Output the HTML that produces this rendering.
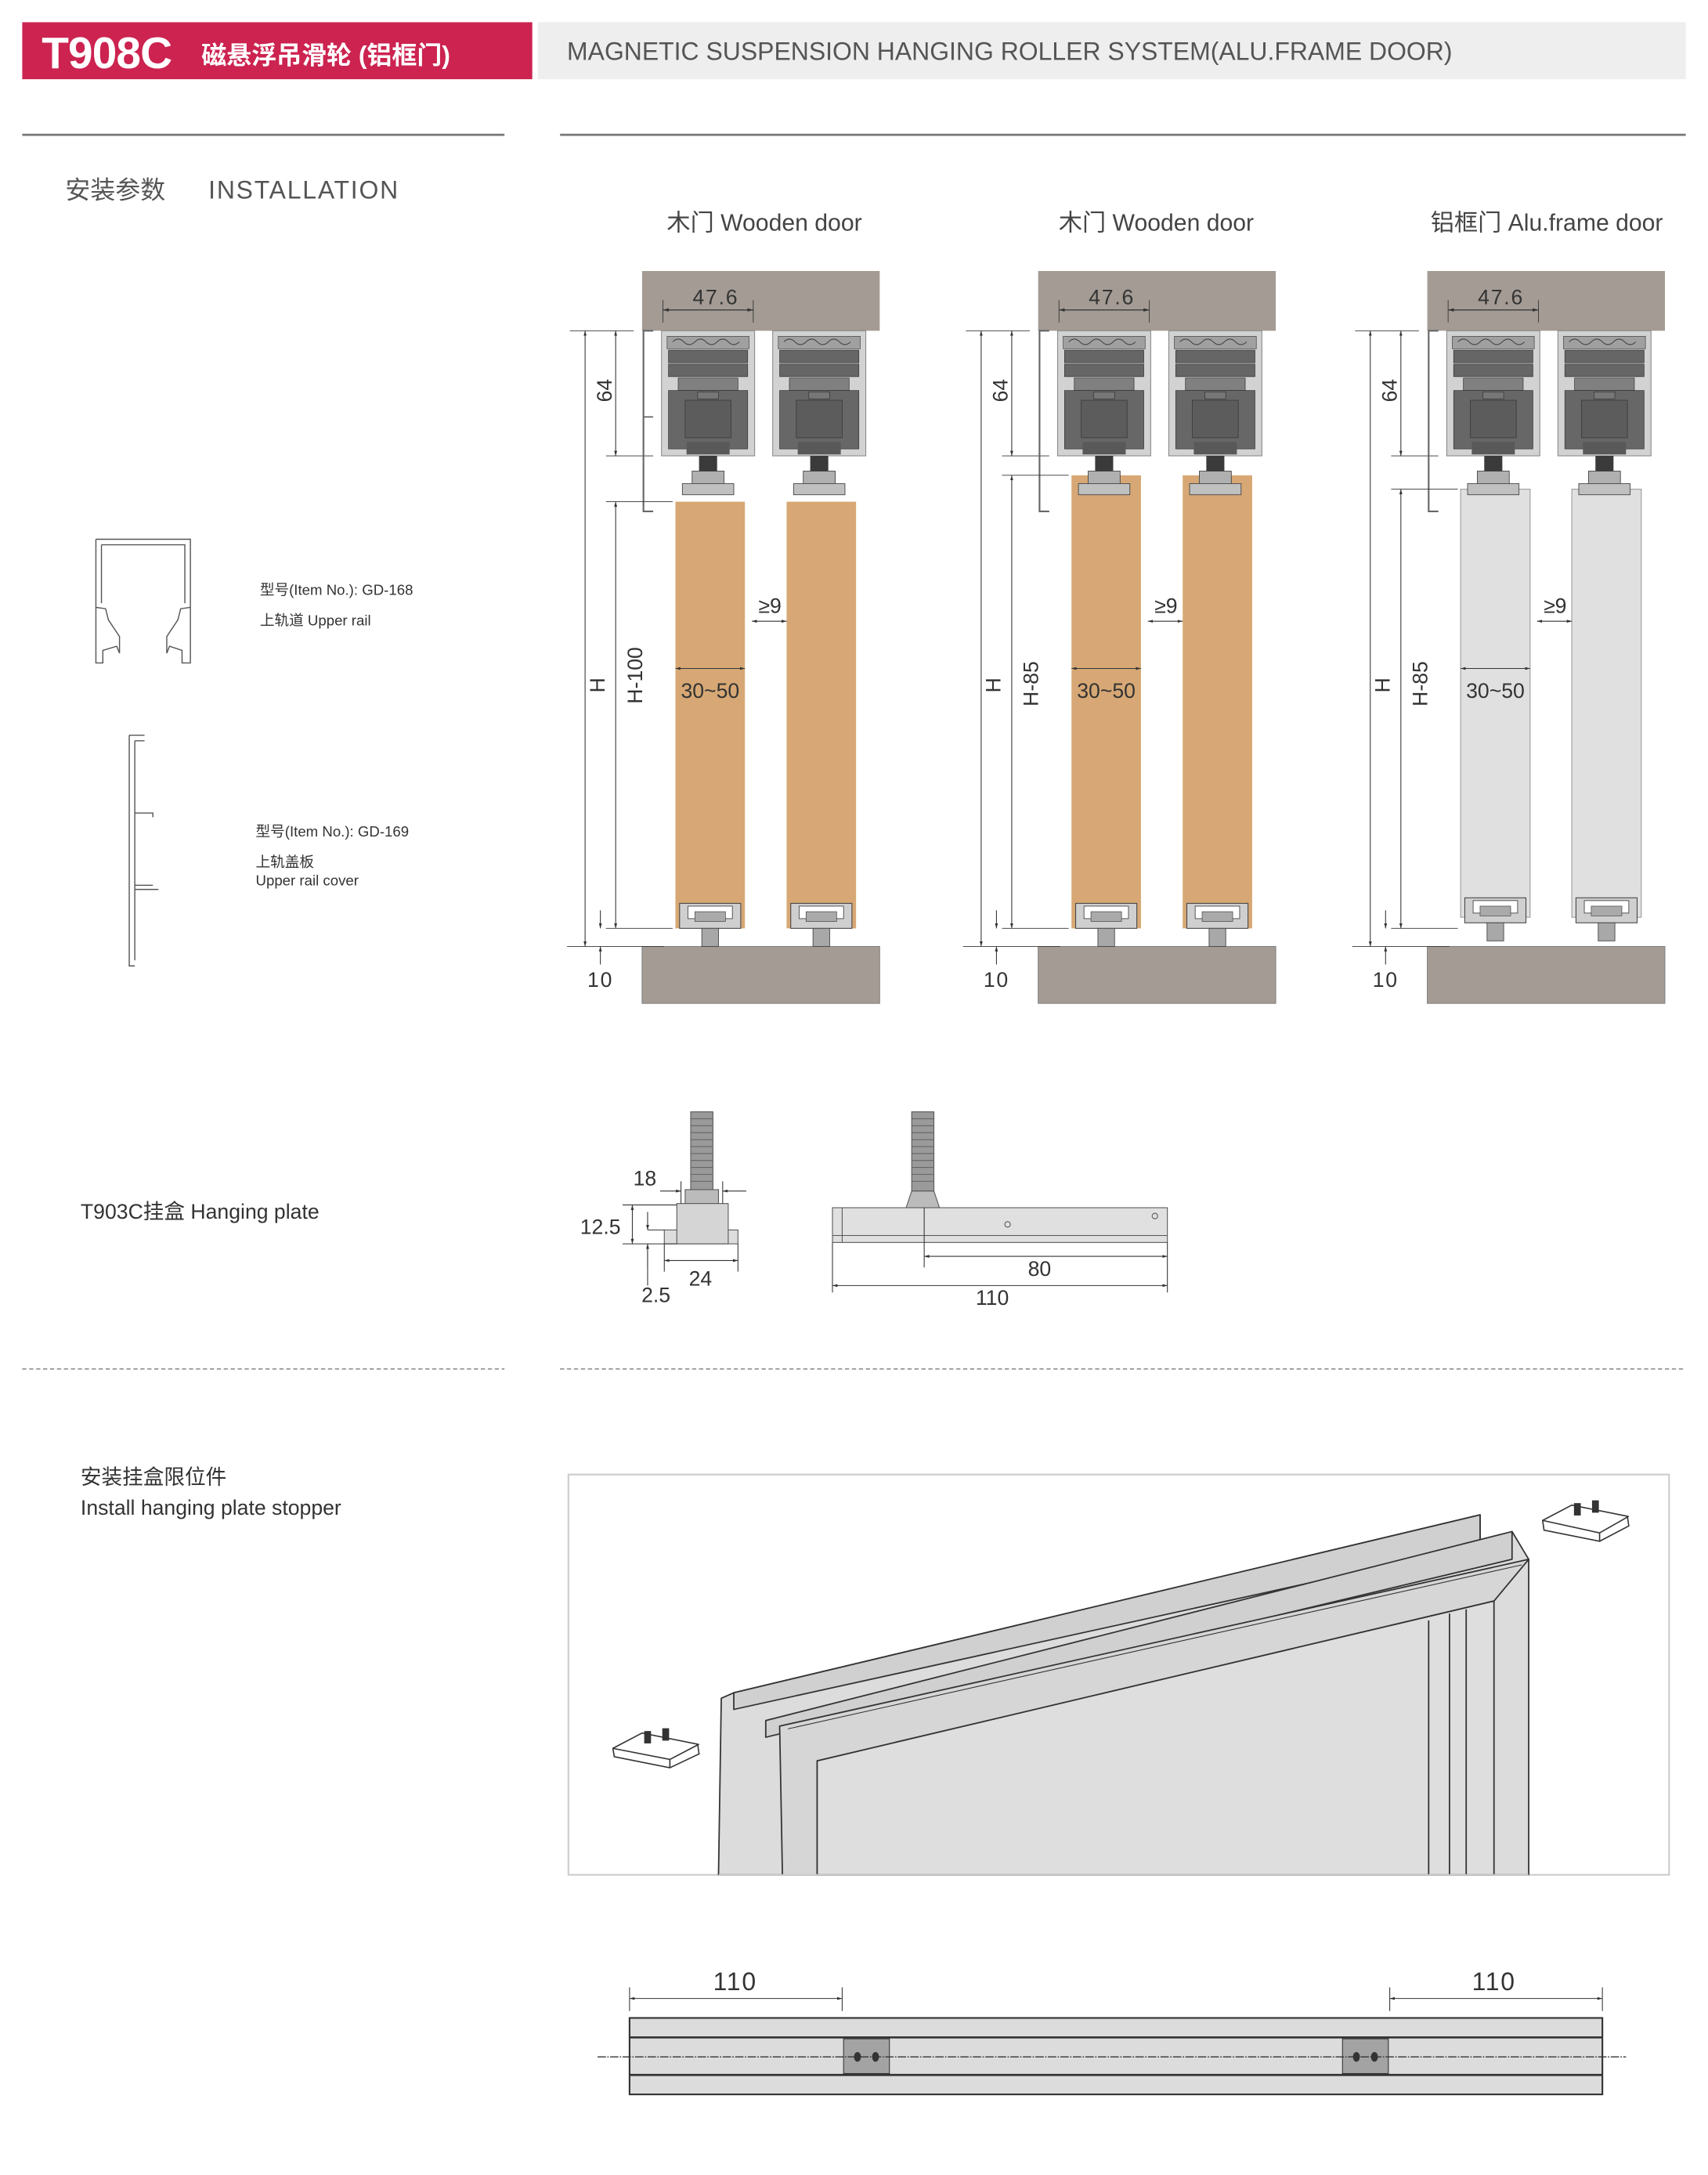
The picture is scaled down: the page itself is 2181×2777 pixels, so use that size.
<!DOCTYPE html>
<html><head><meta charset="utf-8">
<style>
html,body{margin:0;padding:0;background:#fff;}
svg{display:block;}
text{font-family:"Liberation Sans","Noto Sans CJK SC",sans-serif;}
</style></head>
<body>
<svg width="2181" height="2777" viewBox="0 0 1229 1565" preserveAspectRatio="none" xmlns="http://www.w3.org/2000/svg">
<defs>
<marker id="a" viewBox="0 0 10 10" refX="10" refY="5" markerWidth="6" markerHeight="6" orient="auto-start-reverse"><path d="M0,2 L10,5 L0,8 z" fill="#333"/></marker>
<g id="unit">
<rect x="0" y="0" width="67" height="90" fill="#d2d2d2" stroke="#888" stroke-width="0.6"/>
<rect x="4" y="4" width="59" height="9" fill="#a0a0a0" stroke="#444" stroke-width="0.4"/>
<path d="M8,8 q4,-4 8,0 t8,0 t8,0 t8,0 t8,0 t8,0" fill="none" stroke="#444" stroke-width="0.6"/>
<rect x="5" y="14" width="57" height="9" fill="#666" stroke="#333" stroke-width="0.4"/>
<rect x="5" y="24" width="57" height="9" fill="#666" stroke="#333" stroke-width="0.4"/>
<rect x="12" y="34" width="43" height="9" fill="#808080" stroke="#333" stroke-width="0.4"/>
<rect x="5" y="43" width="57" height="42" fill="#676767" stroke="#333" stroke-width="0.4"/>
<rect x="17" y="50" width="33" height="27" fill="#5c5c5c" stroke="#333" stroke-width="0.4"/>
<rect x="26" y="44" width="15" height="5" fill="#777" stroke="#333" stroke-width="0.4"/>
<rect x="18" y="80" width="31" height="9" fill="#595959"/>
<rect x="27" y="90" width="13" height="11" fill="#3a3a3a"/>
<rect x="22" y="101" width="23" height="13" fill="#b0b0b0" stroke="#444" stroke-width="0.5"/>
<rect x="15" y="110" width="37" height="8" fill="#c0c0c0" stroke="#444" stroke-width="0.5"/>
</g>
<g id="guide">
<rect x="3" y="650" width="44" height="18" fill="#cfcfcf" stroke="#444" stroke-width="0.6"/>
<rect x="9" y="652" width="32" height="9" fill="#fff" stroke="#444" stroke-width="0.5"/>
<rect x="14" y="656" width="22" height="7" fill="#aaa" stroke="#444" stroke-width="0.4"/>
<rect x="19" y="668" width="12" height="13" fill="#a8a8a8" stroke="#444" stroke-width="0.5"/>
</g>
<g id="common">
<rect x="462" y="195" width="171" height="43" fill="#a39b94"/>
<line x1="477" y1="223" x2="542" y2="223" stroke="#333" stroke-width="0.7" marker-start="url(#a)" marker-end="url(#a)"/>
<line x1="477" y1="216" x2="477" y2="232" stroke="#333" stroke-width="0.5"/>
<line x1="542" y1="216" x2="542" y2="232" stroke="#333" stroke-width="0.5"/>
<text x="515" y="219" font-size="15" text-anchor="middle" fill="#333" letter-spacing="1">47.6</text>
<use href="#unit" x="476" y="238"/>
<use href="#unit" x="556" y="238"/>
<rect x="462" y="681" width="171" height="41" fill="#a39b94" stroke="#777" stroke-width="0.5"/>
<line x1="410" y1="238" x2="456" y2="238" stroke="#333" stroke-width="0.5"/>
<line x1="408" y1="681" x2="478" y2="681" stroke="#333" stroke-width="0.5"/>
<line x1="421" y1="238" x2="421" y2="681" stroke="#333" stroke-width="0.6" marker-start="url(#a)" marker-end="url(#a)"/>
<line x1="443" y1="238" x2="443" y2="328" stroke="#333" stroke-width="0.6" marker-start="url(#a)" marker-end="url(#a)"/>
<line x1="436" y1="328" x2="470" y2="328" stroke="#333" stroke-width="0.5"/>
<text transform="translate(440,281) rotate(-90)" font-size="15" text-anchor="middle" fill="#333">64</text>
<text transform="translate(435,493) rotate(-90)" font-size="15" text-anchor="middle" fill="#333">H</text>
<line x1="432" y1="655" x2="432" y2="668" stroke="#333" stroke-width="0.6" marker-end="url(#a)"/>
<line x1="432" y1="694" x2="432" y2="681" stroke="#333" stroke-width="0.6" marker-end="url(#a)"/>
<text x="432" y="710" font-size="15" text-anchor="middle" fill="#333" letter-spacing="1">10</text>
<line x1="541" y1="447" x2="566" y2="447" stroke="#333" stroke-width="0.6" marker-start="url(#a)" marker-end="url(#a)"/>
<text x="554" y="441" font-size="15" text-anchor="middle" fill="#333">≥9</text>
<line x1="486" y1="481" x2="536" y2="481" stroke="#333" stroke-width="0.6" marker-start="url(#a)" marker-end="url(#a)"/>
<text x="511" y="502" font-size="15" text-anchor="middle" fill="#333">30~50</text>
</g>
</defs>

<!-- header -->
<rect x="16" y="16" width="367" height="41" fill="#cc2350"/>
<text x="30" y="49" font-size="32" fill="#fff" font-weight="bold" letter-spacing="-0.5">T908C</text>
<text x="145" y="46" font-size="18" fill="#fff" font-weight="bold">磁悬浮吊滑轮 (铝框门)</text>
<rect x="387" y="16" width="826" height="41" fill="#eeeeef"/>
<text x="408" y="43" font-size="18" fill="#555">MAGNETIC SUSPENSION HANGING ROLLER SYSTEM(ALU.FRAME DOOR)</text>
<line x1="16" y1="97" x2="363" y2="97" stroke="#777" stroke-width="1.5"/>
<line x1="403" y1="97" x2="1213" y2="97" stroke="#777" stroke-width="1.5"/>
<text x="47" y="143" font-size="18" fill="#555">安装参数</text>
<text x="150" y="143" font-size="18" fill="#555" letter-spacing="1">INSTALLATION</text>

<text x="550" y="166" font-size="17" text-anchor="middle" fill="#444">木门 Wooden door</text>
<text x="832" y="166" font-size="17" text-anchor="middle" fill="#444">木门 Wooden door</text>
<text x="1113" y="166" font-size="17" text-anchor="middle" fill="#444">铝框门 Alu.frame door</text>

<!-- column 1 -->
<g>
<rect x="486" y="361" width="50" height="307" fill="#d7a875"/>
<rect x="566" y="361" width="50" height="307" fill="#d7a875"/>
<use href="#common"/>
<use href="#guide" x="486"/><use href="#guide" x="566"/>
<path d="M470,238 h-7 v130 h7" fill="none" stroke="#666" stroke-width="1.2"/>
<line x1="463" y1="300" x2="470" y2="300" stroke="#666" stroke-width="1"/>
<line x1="443" y1="361" x2="443" y2="668" stroke="#333" stroke-width="0.6" marker-start="url(#a)" marker-end="url(#a)"/>
<line x1="436" y1="361" x2="484" y2="361" stroke="#333" stroke-width="0.5"/>
<line x1="436" y1="668" x2="484" y2="668" stroke="#333" stroke-width="0.5"/>
<text transform="translate(462,486) rotate(-90)" font-size="15" text-anchor="middle" fill="#333">H-100</text>
</g>
<!-- column 2 -->
<g transform="translate(285,0)">
<rect x="486" y="342" width="50" height="326" fill="#d7a875"/>
<rect x="566" y="342" width="50" height="326" fill="#d7a875"/>
<use href="#common"/>
<use href="#guide" x="486"/><use href="#guide" x="566"/>
<path d="M470,238 h-7 v130 h7" fill="none" stroke="#666" stroke-width="1.2"/>
<line x1="443" y1="342" x2="443" y2="668" stroke="#333" stroke-width="0.6" marker-start="url(#a)" marker-end="url(#a)"/>
<line x1="436" y1="342" x2="484" y2="342" stroke="#333" stroke-width="0.5"/>
<line x1="436" y1="668" x2="484" y2="668" stroke="#333" stroke-width="0.5"/>
<text transform="translate(462,492) rotate(-90)" font-size="15" text-anchor="middle" fill="#333">H-85</text>
</g>
<!-- column 3 -->
<g transform="translate(565,0)">
<rect x="486" y="352" width="50" height="308" fill="#e0e0e0" stroke="#999" stroke-width="0.6"/>
<rect x="566" y="352" width="50" height="308" fill="#e0e0e0" stroke="#999" stroke-width="0.6"/>
<use href="#common"/>
<use href="#guide" x="486" y="-4"/><use href="#guide" x="566" y="-4"/>
<path d="M470,238 h-7 v130 h7" fill="none" stroke="#666" stroke-width="1.2"/>
<line x1="443" y1="352" x2="443" y2="668" stroke="#333" stroke-width="0.6" marker-start="url(#a)" marker-end="url(#a)"/>
<line x1="436" y1="352" x2="484" y2="352" stroke="#333" stroke-width="0.5"/>
<line x1="436" y1="668" x2="484" y2="668" stroke="#333" stroke-width="0.5"/>
<text transform="translate(462,492) rotate(-90)" font-size="15" text-anchor="middle" fill="#333">H-85</text>
</g>

<!-- profiles -->
<g fill="none" stroke="#555" stroke-width="0.8">
<path d="M69,388 H137 V477 H131 V468 L122,465 L120,470 V458 L128,446 L130,438 L137,437"/>
<path d="M69,388 V477 H74 V468 L84,465 L86,470 V458 L78,446 L76,438 L69,437"/>
<path d="M73,392 H133 V434 M73,392 V434"/>
<path d="M93,529 H104 M93,529 V695 H97 M97,533 H104 M97,533 V691"/>
<path d="M97,585 H110 V588 M97,640 H114 M97,637 H110"/>
</g>
<text x="187" y="428" font-size="10.5" fill="#333">型号(Item No.): GD-168</text>
<text x="187" y="450" font-size="10.5" fill="#333">上轨道 Upper rail</text>
<text x="184" y="602" font-size="10.5" fill="#333">型号(Item No.): GD-169</text>
<text x="184" y="624" font-size="10.5" fill="#333">上轨盖板</text>
<text x="184" y="637" font-size="10.5" fill="#333">Upper rail cover</text>

<!-- hanging plate -->
<text x="58" y="877" font-size="15" fill="#333">T903C挂盒  Hanging plate</text>
<g stroke="#555" stroke-width="0.6">
<rect x="497" y="800" width="16" height="57" fill="#9a9a9a"/>
<path d="M497,805 h16 M497,810 h16 M497,815 h16 M497,820 h16 M497,825 h16 M497,830 h16 M497,835 h16 M497,840 h16 M497,845 h16 M497,850 h16" stroke="#666"/>
<rect x="493" y="856" width="24" height="11" fill="#bbb"/>
<rect x="478" y="885" width="53" height="10" fill="#ddd"/>
<rect x="487" y="866" width="37" height="29" fill="#d5d5d5"/>
<rect x="656" y="800" width="16" height="57" fill="#9a9a9a"/>
<path d="M656,805 h16 M656,810 h16 M656,815 h16 M656,820 h16 M656,825 h16 M656,830 h16 M656,835 h16 M656,840 h16 M656,845 h16 M656,850 h16" stroke="#666"/>
<path d="M652,869 L656,857 H672 L676,869 z" fill="#bbb"/>
<rect x="599" y="869" width="241" height="25" fill="#e0e0e0"/>
<line x1="599" y1="889" x2="840" y2="889"/>
<line x1="606" y1="869" x2="606" y2="894"/>
<circle cx="725" cy="881" r="2" fill="none"/>
<circle cx="831" cy="875" r="2" fill="none"/>
</g>
<g stroke="#333" stroke-width="0.6" fill="none">
<line x1="475" y1="857" x2="490" y2="857" marker-end="url(#a)"/>
<line x1="537" y1="857" x2="520" y2="857" marker-end="url(#a)"/>
<line x1="490" y1="850" x2="490" y2="866"/><line x1="520" y1="850" x2="520" y2="866"/>
<line x1="448" y1="867" x2="487" y2="867"/><line x1="448" y1="895" x2="487" y2="895"/>
<line x1="455" y1="867" x2="455" y2="895" marker-start="url(#a)" marker-end="url(#a)"/>
<line x1="466" y1="872" x2="466" y2="885" marker-end="url(#a)"/>
<line x1="466" y1="912" x2="466" y2="895" marker-end="url(#a)"/>
<line x1="466" y1="885" x2="478" y2="885"/>
<line x1="466" y1="895" x2="466" y2="925"/>
<line x1="478" y1="895" x2="478" y2="915"/><line x1="531" y1="895" x2="531" y2="915"/>
<line x1="478" y1="907" x2="531" y2="907" marker-start="url(#a)" marker-end="url(#a)"/>
<line x1="665" y1="869" x2="665" y2="912"/>
<line x1="599" y1="894" x2="599" y2="930"/><line x1="840" y1="894" x2="840" y2="930"/>
<line x1="665" y1="904" x2="840" y2="904" marker-start="url(#a)" marker-end="url(#a)"/>
<line x1="599" y1="925" x2="840" y2="925" marker-start="url(#a)" marker-end="url(#a)"/>
</g>
<g font-size="15" fill="#333" text-anchor="middle">
<text x="464" y="853">18</text>
<text x="432" y="888">12.5</text>
<text x="472" y="937">2.5</text>
<text x="504" y="925">24</text>
<text x="748" y="918">80</text>
<text x="714" y="939">110</text>
</g>

<line x1="16" y1="985" x2="363" y2="985" stroke="#999" stroke-width="1" stroke-dasharray="3,2"/>
<line x1="403" y1="985" x2="1213" y2="985" stroke="#999" stroke-width="1" stroke-dasharray="3,2"/>

<text x="58" y="1068" font-size="15" fill="#333">安装挂盒限位件</text>
<text x="58" y="1090" font-size="15" fill="#333">Install hanging plate stopper</text>

<!-- isometric door -->
<rect x="409" y="1061" width="792" height="288" fill="#fff" stroke="#ccc" stroke-width="1.2"/>
<g stroke="#333" stroke-width="1" fill="#dcdcdc" stroke-linejoin="round">
<path d="M517,1349 L519,1222 L528,1218 L1065,1090 L1065,1112 L1088,1102 L1100,1122 L1100,1349 z"/>
<path d="M528,1218 L1065,1090 L1065,1112 L528,1230 z" fill="#d0d0d0"/>
<path d="M551,1238 L1088,1102 L1088,1122 L551,1250 z" fill="#d0d0d0"/>
<path d="M563,1349 L561,1242 L1100,1122 L1075,1152 L588,1267 L588,1349" fill="#d6d6d6"/>
<path d="M588,1267 L1075,1152 L1075,1349 L588,1349 z" fill="#dedede"/>
<line x1="1028" y1="1166" x2="1028" y2="1349"/>
<line x1="1043" y1="1161" x2="1043" y2="1349"/>
<line x1="1055" y1="1158" x2="1055" y2="1349"/>
<line x1="567" y1="1244" x2="1095" y2="1126" stroke-width="0.6"/>
<line x1="517" y1="1349" x2="1100" y2="1349" stroke="#ccc"/>
</g>
<g stroke="#333" stroke-width="0.9">
<path d="M441,1258 L462,1247 L502,1255 L503,1262 L482,1272 L442,1264 z" fill="#fff"/>
<path d="M441,1258 L482,1266 L503,1255 M482,1266 L482,1272" fill="none"/>
<rect x="464" y="1246" width="4" height="8" fill="#333"/><rect x="477" y="1244" width="4" height="8" fill="#333"/>
<path d="M1110,1094 L1131,1083 L1171,1091 L1172,1098 L1151,1109 L1111,1101 z" fill="#fff"/>
<path d="M1110,1094 L1151,1103 L1172,1091 M1151,1103 L1151,1109" fill="none"/>
<rect x="1133" y="1082" width="4" height="8" fill="#333"/><rect x="1146" y="1080" width="4" height="8" fill="#333"/>
</g>

<!-- bottom rail -->
<g stroke="#333" fill="#dcdcdc">
<rect x="453" y="1452" width="700" height="55" stroke-width="1.2"/>
<line x1="453" y1="1466" x2="1153" y2="1466" stroke-width="1.5"/>
<line x1="453" y1="1493" x2="1153" y2="1493" stroke-width="1.5"/>
<rect x="607" y="1467" width="33" height="25" fill="#a3a3a3" stroke-width="0.6"/>
<rect x="966" y="1467" width="33" height="25" fill="#a3a3a3" stroke-width="0.6"/>
<line x1="430" y1="1480" x2="1170" y2="1480" stroke-width="0.8" stroke-dasharray="6,1,1,1"/>
<ellipse cx="617" cy="1480" rx="2" ry="3" fill="#333"/><ellipse cx="630" cy="1480" rx="2" ry="3" fill="#333"/>
<ellipse cx="976" cy="1480" rx="2" ry="3" fill="#333"/><ellipse cx="989" cy="1480" rx="2" ry="3" fill="#333"/>
</g>
<g stroke="#333" stroke-width="0.6">
<line x1="453" y1="1430" x2="453" y2="1447"/><line x1="606" y1="1430" x2="606" y2="1447"/>
<line x1="1000" y1="1430" x2="1000" y2="1447"/><line x1="1153" y1="1430" x2="1153" y2="1447"/>
<line x1="453" y1="1438" x2="606" y2="1438" marker-start="url(#a)" marker-end="url(#a)"/>
<line x1="1000" y1="1438" x2="1153" y2="1438" marker-start="url(#a)" marker-end="url(#a)"/>
</g>
<text x="529" y="1432" font-size="18" text-anchor="middle" fill="#333" letter-spacing="1">110</text>
<text x="1075" y="1432" font-size="18" text-anchor="middle" fill="#333" letter-spacing="1">110</text>
</svg>
</body></html>
